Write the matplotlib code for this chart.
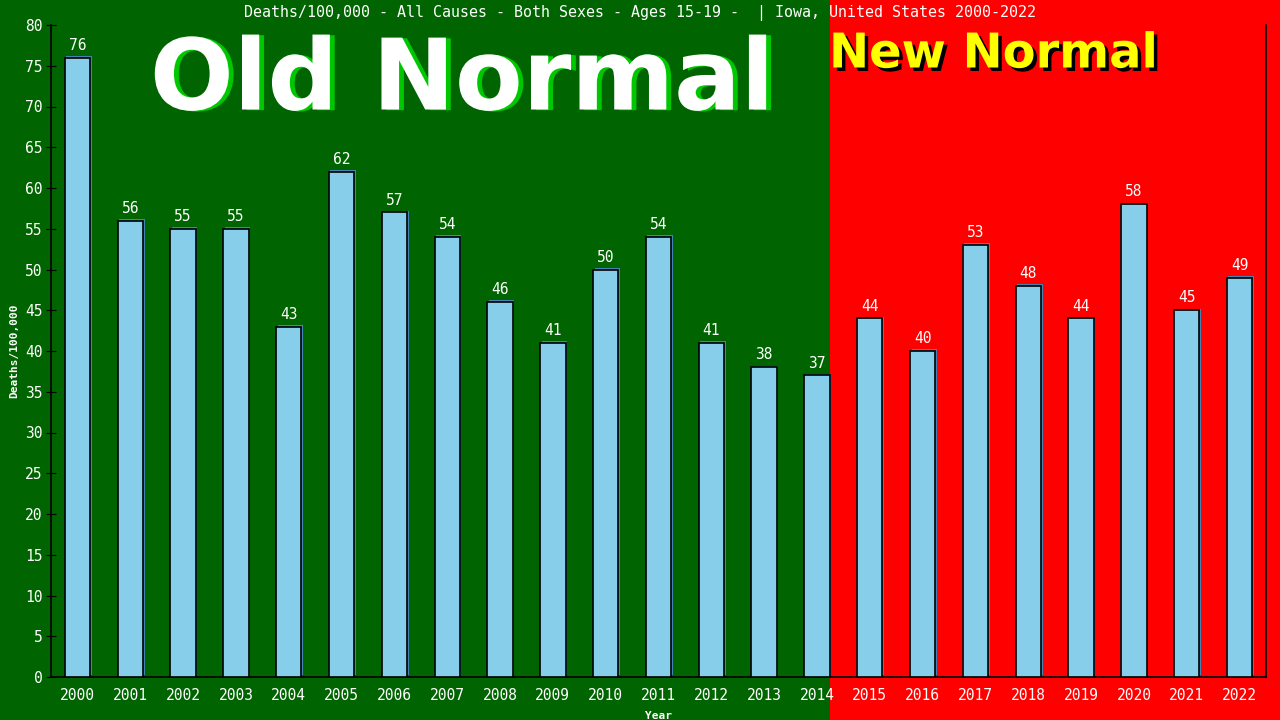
import numpy as np
import matplotlib.pyplot as plt
import matplotlib.patheffects as pe
from matplotlib.patches import Rectangle

# ---data---
years = [str(y) for y in range(2000, 2023)]
deaths_per_100k = [76, 56, 55, 55, 43, 62, 57, 54, 46, 41, 50, 54, 41, 38, 37,
                   44, 40, 53, 48, 44, 58, 45, 49]
yticks = list(range(0, 81, 5))
title = 'Deaths/100,000 - All Causes - Both Sexes - Ages 15-19 -  | Iowa, United States 2000-2022'

green_bg = '#006400'
red_bg = '#ff0000'
bar_col = '#87ceeb'
mono = 'DejaVu Sans Mono'

fig = plt.figure(figsize=(12.8, 7.2), dpi=100)
fig.patch.set_facecolor(green_bg)
ax = fig.add_axes([51/1280, 43/720, (1266-51)/1280, (677-25)/720])
ax.set_facecolor('none')
ax.set_zorder(2)

x = np.arange(len(years))
w = 0.48

ax.set_xlim(-0.5, len(years) - 0.5)
ax.set_ylim(0, 80)

# red "new normal" band, from right edge of 2014 bar to figure edge
x_split = 14 + w/2
fx = fig.transFigure.inverted().transform(ax.transData.transform((x_split, 0)))[0]
fig.add_artist(Rectangle((fx, 0), 1 - fx, 1, transform=fig.transFigure,
                         facecolor=red_bg, edgecolor='none', zorder=0))

# shadow then main bars
ax.bar(x + 0.03, deaths_per_100k, width=w, bottom=0.2, color='#4682b4', zorder=2)
ax.bar(x, deaths_per_100k, width=w, color=bar_col, edgecolor='black', linewidth=1.2, zorder=3)
for xi, v in zip(x, deaths_per_100k):
    ax.text(xi, v + 0.6, str(v), ha='center', va='bottom', color='white',
            fontsize=10.5, family=mono, zorder=4)

ax.set_xticks(x)
ax.set_xticklabels(years, family=mono, fontsize=10.5, color='white')
ax.set_yticks(yticks)
ax.set_yticklabels([str(t) for t in yticks], family=mono, fontsize=10.5, color='white')
ax.tick_params(axis='x', length=0, pad=8)
ax.tick_params(axis='y', direction='inout', length=6.5, color='black', pad=3)
ax.spines['top'].set_visible(False)
for s in ['left', 'bottom', 'right']:
    ax.spines[s].set_color('black')
    ax.spines[s].set_linewidth(1.2)

ax.set_xlabel('Year', color='white', fontsize=8, fontweight='bold', family=mono, labelpad=6)
ax.set_ylabel('Deaths/100,000', color='white', fontsize=8, fontweight='bold', family=mono, labelpad=4)

fig.text(0.5, 1 - 13/720, title, ha='center', va='center', color='white',
         fontsize=10.8, family=mono, zorder=5)

fig.text(462/1280, 1 - 82/720, 'Old Normal', ha='center', va='center', color='white',
         fontsize=71, fontweight='bold', family='DejaVu Sans', zorder=5,
         path_effects=[pe.withSimplePatchShadow(offset=(3.5, -0.5), shadow_rgbFace='#00c800', alpha=1.0)])
fig.text(829/1280, 1 - 54/720, 'New Normal', ha='left', va='center', color='#ffff00',
         fontsize=34.5, fontweight='bold', family='DejaVu Sans', zorder=5,
         path_effects=[pe.withSimplePatchShadow(offset=(2.5, -2.5), shadow_rgbFace='black', alpha=1.0)])

fig.savefig('out.png', dpi=100, facecolor=fig.get_facecolor())
